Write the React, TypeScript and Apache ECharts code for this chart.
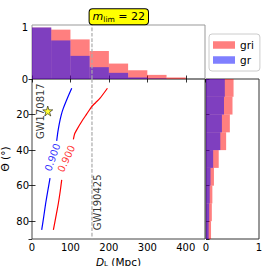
import React, { useEffect, useRef } from 'react';
import * as echarts from 'echarts';

const FONT = 'DejaVu Sans';

// Distance histogram (top panel), normalised
const distEdges = [0, 50, 100, 150, 200, 250, 300, 350, 400];
const distBinWidth = 50;
const distGri = [1.0, 0.96, 0.77, 0.545, 0.3, 0.17, 0.08, 0.03];
const distGr = [1.0, 0.75, 0.45, 0.23, 0.12, 0.03, 0.01, 0.0];

// Inclination histogram (right panel), normalised
const angleEdges = [0, 10, 20, 30, 40, 50, 60, 70, 80];
const angleBinWidth = 10;
const angleGri = [0.52, 0.5, 0.45, 0.38, 0.24, 0.15, 0.12, 0.11, 0.095];
const angleGr = [0.355, 0.34, 0.3, 0.27, 0.135, 0.085, 0.07, 0.06, 0.05];

// 0.900 contours [D_L (Mpc), Theta (deg)]
const blueLower = [[25.2, 84.9], [30.5, 77.5], [35.6, 69.9], [41, 63], [46.9, 55.8]];
const blueUpper = [[64.2, 34.8], [67.5, 29.5], [71.2, 24.9], [76, 20.3], [81.6, 16.4], [92, 10.8], [103.3, 5.2]];
const redLower = [[55.6, 84.9], [62.5, 77], [68.6, 69.9], [73.5, 63], [77.3, 56.7]];
const redUpper = [[107.6, 33.9], [111, 30.8], [116.3, 28.6], [129.3, 23.9], [142, 19.8], [155.3, 15.5], [166, 13.2], [177, 10.8], [196.2, 5.2]];

const contourLevel = '0.900';
const blueLabelPos = [53.4, 44.1];
const redLabelPos = [89.3, 44.8];

const gw190425DL = 156;
const gw170817 = [41, 18];
const gw170817LabelPos = [22.9, 18.1];
const gw190425LabelPos = [170.6, 69.4];
const mLim = 22;

const distMax = 450;
const thetaMax = 90;
const histMax = 1.05;

const RED = 'rgba(255,0,0,0.5)';
const BLUE = 'rgba(0,0,255,0.5)';
const STAR = 'path://M50,0 L61,35 L98,35 L68,57 L79,91 L50,70 L21,91 L32,57 L2,35 L39,35 Z';

const vbar = (fill: string) => (params: any, api: any) => {
  const x0 = api.value(0), x1 = api.value(1), h = api.value(2);
  const a = api.coord([x0, h]);
  const b = api.coord([x1, 0]);
  return { type: 'rect', shape: { x: a[0], y: a[1], width: b[0] - a[0], height: b[1] - a[1] }, style: { fill } };
};
const hbar = (fill: string) => (params: any, api: any) => {
  const y0 = api.value(0), y1 = api.value(1), v = api.value(2);
  const a = api.coord([0, y0]);
  const b = api.coord([v, y1]);
  return {
    type: 'rect',
    shape: { x: a[0], y: Math.min(a[1], b[1]), width: b[0] - a[0], height: Math.abs(b[1] - a[1]) },
    style: { fill },
  };
};

const tickIn = { show: true, inside: true, length: 3.5, lineStyle: { color: '#000', width: 0.8 } };
const lbl = { fontFamily: FONT, fontSize: 10, color: '#000' };

export default function App() {
  const ref = useRef<HTMLDivElement>(null);
  useEffect(() => {
    if (!ref.current) return;
    const chart = echarts.init(ref.current, null, { renderer: 'svg' });
    const distGriData = distEdges.map((e, i) => [e, e + distBinWidth, distGri[i]]);
    const distGrData = distEdges.map((e, i) => [e, e + distBinWidth, distGr[i]]);
    const angGriData = angleEdges.map((e, i) => [e, e + angleBinWidth, angleGri[i]]);
    const angGrData = angleEdges.map((e, i) => [e, e + angleBinWidth, angleGr[i]]);

    const lineS = (data: number[][], color: string) => ({
      type: 'line', xAxisIndex: 1, yAxisIndex: 1, data, showSymbol: false, symbol: 'none',
      smooth: 0.2, lineStyle: { color, width: 1.2 }, silent: true, z: 5,
    });
    const textPt = (pos: number[], text: string, rotate: number, color: string) => ({
      value: pos,
      label: {
        show: true, formatter: text, rotate, color, position: 'inside', align: 'center', verticalAlign: 'middle',
        fontFamily: FONT, fontSize: 10,
      },
    });
    const gridBase = { show: true, backgroundColor: 'transparent', containLabel: false, outerBoundsMode: 'none' };

    chart.setOption({
      animation: false,
      backgroundColor: '#fff',
      grid: [
        { ...gridBase, left: 32, top: 25, width: 173, height: 54, borderColor: '#999', borderWidth: 1 },
        { ...gridBase, left: 32, top: 79, width: 173, height: 160, borderColor: '#444', borderWidth: 1 },
        { ...gridBase, left: 206, top: 79, width: 53, height: 160, borderColor: '#333', borderWidth: 1 },
      ],
      xAxis: [
        { type: 'value', gridIndex: 0, min: 0, max: distMax, interval: 100, axisLine: { show: false }, axisTick: { show: false }, axisLabel: { show: false }, splitLine: { show: false } },
        {
          type: 'value', gridIndex: 1, min: 0, max: distMax, interval: 100, position: 'bottom',
          axisLine: { show: false }, axisTick: tickIn, splitLine: { show: false },
          axisLabel: { ...lbl, margin: 3, showMaxLabel: false },
          name: '{i|D}{s|L} (Mpc)', nameLocation: 'middle', nameGap: 17, nameMoveOverlap: false,
          nameTextStyle: {
            fontFamily: FONT, fontSize: 10.5, color: '#000',
            rich: { i: { fontFamily: FONT, fontSize: 10.5, fontStyle: 'italic', color: '#000' }, s: { fontFamily: FONT, fontSize: 7, color: '#000', padding: [4, 0, 0, 0] } },
          },
        },
        { type: 'value', gridIndex: 1, min: 0, max: distMax, interval: 100, position: 'top', axisLine: { show: false }, axisTick: tickIn, axisLabel: { show: false }, splitLine: { show: false } },
        {
          type: 'value', gridIndex: 2, min: 0, max: 1, interval: 1, position: 'bottom',
          axisLine: { show: false }, axisTick: { show: false }, splitLine: { show: false },
          axisLabel: { ...lbl, margin: 3 },
        },
      ],
      yAxis: [
        {
          type: 'value', gridIndex: 0, min: 0, max: histMax, interval: 1, axisLine: { show: false }, axisTick: { show: false }, splitLine: { show: false },
          axisLabel: { ...lbl, margin: 4, showMaxLabel: false, formatter: (v: number) => (v === 0 || v === 1 ? String(v) : '') },
        },
        {
          type: 'value', gridIndex: 1, min: 0, max: thetaMax, interval: 20, inverse: true, position: 'left',
          axisLine: { show: false }, axisTick: tickIn, splitLine: { show: false },
          axisLabel: { ...lbl, margin: 3, showMinLabel: false, showMaxLabel: false },
          name: 'Θ (°)', nameLocation: 'middle', nameGap: 22, nameRotate: 90, nameMoveOverlap: false,
          nameTextStyle: { fontFamily: FONT, fontSize: 10.5, color: '#000' },
        },
        { type: 'value', gridIndex: 1, min: 0, max: thetaMax, interval: 20, inverse: true, position: 'right', axisLine: { show: false }, axisTick: tickIn, axisLabel: { show: false }, splitLine: { show: false } },
        { type: 'value', gridIndex: 2, min: 0, max: thetaMax, interval: 20, inverse: true, position: 'left', axisLine: { show: false }, axisTick: tickIn, axisLabel: { show: false }, splitLine: { show: false } },
      ],
      legend: {
        left: 209, top: 34, orient: 'vertical', data: ['gri', 'gr'], icon: 'rect',
        itemWidth: 22, itemHeight: 7.5, itemGap: 3, padding: [5, 6, 5, 4],
        borderColor: '#ccc', borderWidth: 1, borderRadius: 3, backgroundColor: '#fff',
        textStyle: { fontFamily: FONT, fontSize: 10.5, color: '#000', lineHeight: 12 },
        selectedMode: false,
      },
      graphic: [
        {
          type: 'text', x: 118.8, y: 16.7, z: 100,
          style: {
            text: `{i|m}{s|lim}{t| = ${mLim}}`,
            align: 'center', verticalAlign: 'middle',
            backgroundColor: '#ffff00', borderColor: '#000', borderWidth: 1, borderRadius: 3, padding: [1, 3, 1, 3],
            rich: {
              i: { fontFamily: FONT, fontSize: 11, fontStyle: 'italic', fill: '#000' },
              s: { fontFamily: FONT, fontSize: 7.5, fill: '#000', padding: [5, 0, 0, 0] },
              t: { fontFamily: FONT, fontSize: 11, fill: '#000' },
            },
          },
        },
      ],
      series: [
        { type: 'custom', name: 'gri', xAxisIndex: 0, yAxisIndex: 0, data: distGriData, encode: { x: 0, y: 2 }, renderItem: vbar(RED), itemStyle: { color: RED }, silent: true },
        { type: 'custom', name: 'gr', xAxisIndex: 0, yAxisIndex: 0, data: distGrData, encode: { x: 0, y: 2 }, renderItem: vbar(BLUE), itemStyle: { color: BLUE }, silent: true },
        { type: 'custom', name: 'gri', xAxisIndex: 3, yAxisIndex: 3, data: angGriData, encode: { x: 2, y: 0 }, renderItem: hbar(RED), itemStyle: { color: RED }, silent: true },
        { type: 'custom', name: 'gr', xAxisIndex: 3, yAxisIndex: 3, data: angGrData, encode: { x: 2, y: 0 }, renderItem: hbar(BLUE), itemStyle: { color: BLUE }, silent: true },
        {
          type: 'line', xAxisIndex: 0, yAxisIndex: 0, data: [[gw190425DL, 0], [gw190425DL, histMax]], symbol: 'none', silent: true, z: 6,
          lineStyle: { color: '#aaa', width: 1.2, type: [3.7, 1.6] },
        },
        {
          type: 'line', xAxisIndex: 1, yAxisIndex: 1, data: [[gw190425DL, 0], [gw190425DL, thetaMax]], symbol: 'none', silent: true, z: 4,
          lineStyle: { color: '#aaa', width: 1.2, type: [3.7, 1.6] },
        },
        lineS(blueLower, '#0000ff'),
        lineS(blueUpper, '#0000ff'),
        lineS(redLower, '#ff0000'),
        lineS(redUpper, '#ff0000'),
        {
          type: 'scatter', xAxisIndex: 1, yAxisIndex: 1, symbol: STAR, symbolSize: 10, silent: true, z: 8,
          itemStyle: { color: '#ffff00', borderColor: '#000', borderWidth: 0.7 },
          data: [gw170817],
        },
        {
          type: 'scatter', xAxisIndex: 1, yAxisIndex: 1, symbolSize: 0, silent: true, z: 7,
          data: [
            textPt(blueLabelPos, contourLevel, 70, '#0000ff'),
            textPt(redLabelPos, contourLevel, 65, '#ff0000'),
            textPt(gw170817LabelPos, 'GW170817', 90, '#000'),
            textPt(gw190425LabelPos, 'GW190425', 90, '#000'),
          ],
        },
      ],
    });
    return () => chart.dispose();
  }, []);
  return <div ref={ref} style={{ position: 'fixed', left: 0, top: 0, width: 266, height: 266 }} />;
}
